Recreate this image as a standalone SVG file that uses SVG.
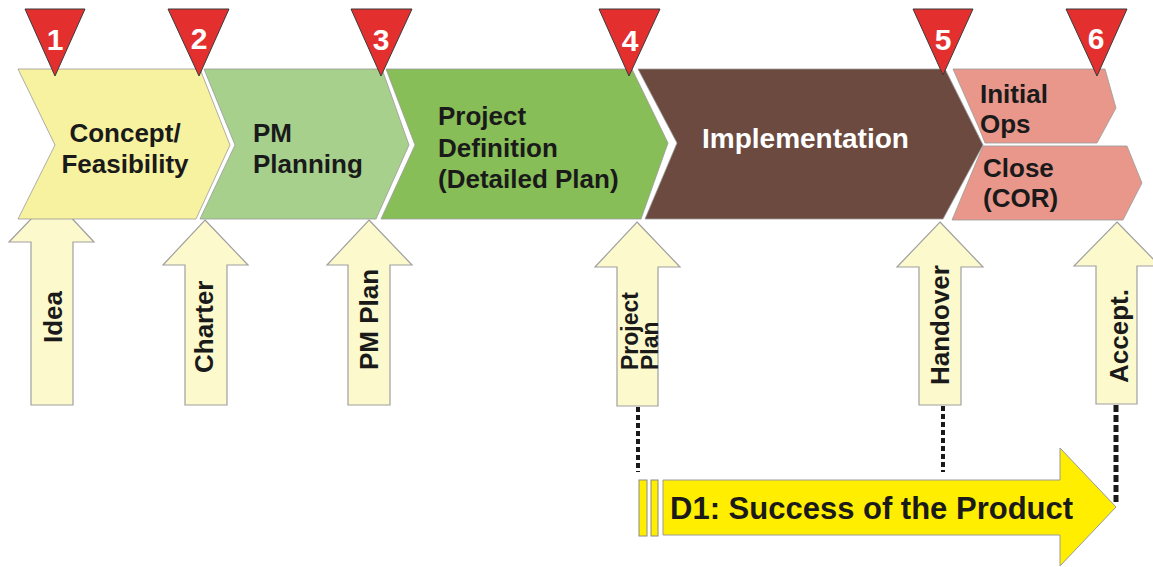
<svg xmlns="http://www.w3.org/2000/svg" width="1153" height="567" viewBox="0 0 1153 567">
<style>
  text { font-family: "Liberation Sans", Arial, sans-serif; font-weight: bold; }
  .lbl { font-size: 26px; fill: #1a1a1a; }
  .num { font-size: 30px; fill: #ffffff; text-anchor: middle; }
  .up { fill: #FCF9CC; stroke: #A0A0A0; stroke-width: 1.2; }
  .tri { fill: #E3302F; stroke: #3a3a3a; stroke-width: 1; }
  .chev { stroke: #9a9a9a; stroke-width: 0.8; }
  .dot { stroke: #1a1a1a; stroke-width: 4; stroke-dasharray: 5 3; fill: none; }
</style>
<rect width="1153" height="567" fill="#ffffff"/>

<!-- Idea arrow (behind chevron) -->
<g id="arrow-idea">
  <polygon class="up" points="52,197 94,242 73,242 73,405 31,405 31,242 9,242"/>
  <text class="lbl" transform="translate(62,343) rotate(-90)">Idea</text>
</g>

<!-- Phase chevrons -->
<g id="phase-concept">
  <polygon class="chev" fill="#F7F2A0" points="18,69 200,69 230,145 196,219 18,219 55,145"/>
  <text class="lbl" text-anchor="middle" x="125" y="142">Concept/</text>
  <text class="lbl" text-anchor="middle" x="125" y="173">Feasibility</text>
</g>
<g id="phase-pm-planning">
  <polygon class="chev" fill="#A8D08D" points="204,69 382,69 409,145 376,219 200,219 235,145"/>
  <text class="lbl" x="253" y="142">PM</text>
  <text class="lbl" x="253" y="173">Planning</text>
</g>
<g id="phase-project-definition">
  <polygon class="chev" fill="#87BE57" points="386,69 632,69 668,143 641,219 381,219 415,145"/>
  <text class="lbl" x="438" y="125">Project</text>
  <text class="lbl" x="438" y="157">Definition</text>
  <text class="lbl" x="438" y="188">(Detailed Plan)</text>
</g>
<g id="phase-implementation">
  <polygon class="chev" fill="#6C4A3F" points="638,69 945,69 983,145 943,219 645,219 677,143"/>
  <text x="702" y="148" font-size="28" fill="#ffffff">Implementation</text>
</g>
<g id="phase-initial-ops">
  <polygon class="chev" fill="#E8978A" points="953,69 1105,69 1116,108 1097,143 985,143 979,128"/>
  <text class="lbl" x="980" y="103">Initial</text>
  <text class="lbl" x="980" y="133">Ops</text>
</g>
<g id="phase-close">
  <polygon class="chev" fill="#E8978A" points="983,146 1127,146 1142,183 1123,220 952,220"/>
  <text class="lbl" x="983" y="177">Close</text>
  <text class="lbl" x="983" y="207">(COR)</text>
</g>

<!-- Milestone triangles -->
<g id="milestone-1"><polygon class="tri" points="25,9 85,9 55,76"/><text class="num" x="55" y="50">1</text></g>
<g id="milestone-2"><polygon class="tri" points="168,9 229,9 199,76"/><text class="num" x="199" y="49">2</text></g>
<g id="milestone-3"><polygon class="tri" points="351,9 412,9 381,76"/><text class="num" x="381" y="50">3</text></g>
<g id="milestone-4"><polygon class="tri" points="599,9 660,9 629,76"/><text class="num" x="630" y="51">4</text></g>
<g id="milestone-5"><polygon class="tri" points="913,9 973,9 943,75"/><text class="num" x="943" y="50">5</text></g>
<g id="milestone-6"><polygon class="tri" points="1066,9 1127,9 1097,76"/><text class="num" x="1096" y="49">6</text></g>

<!-- Deliverable arrows -->
<g id="arrow-charter">
  <polygon class="up" points="205,220 248,265 227,265 227,405 185,405 185,265 163,265"/>
  <text class="lbl" transform="translate(213,373) rotate(-90)">Charter</text>
</g>
<g id="arrow-pm-plan">
  <polygon class="up" points="369,220 412,265 390,265 390,405 348,405 348,265 327,265"/>
  <text class="lbl" transform="translate(378,370) rotate(-90)">PM Plan</text>
</g>
<g id="arrow-project-plan">
  <polygon class="up" points="637,222 680,267 658,267 658,406 617,406 617,267 595,267"/>
  <text class="lbl" style="font-size:23px" transform="translate(638,370) rotate(-90)">Project</text>
  <text class="lbl" style="font-size:23px" transform="translate(658,370) rotate(-90)">Plan</text>
</g>
<g id="arrow-handover">
  <polygon class="up" points="940,222 983,267 961,267 961,405 919,405 919,267 897,267"/>
  <text class="lbl" transform="translate(949,385) rotate(-90)">Handover</text>
</g>
<g id="arrow-accept">
  <polygon class="up" points="1117,222 1160,266 1137,266 1137,404 1096,404 1096,266 1074,266"/>
  <text class="lbl" transform="translate(1128,383) rotate(-90)">Accept.</text>
</g>

<!-- Connectors -->
<g id="connectors">
  <line class="dot" x1="638" y1="407" x2="638" y2="472"/>
  <line class="dot" x1="943" y1="406" x2="943" y2="472"/>
  <line class="dot" x1="1116" y1="405" x2="1116" y2="503" style="stroke-width:5;stroke-dasharray:7 3"/>
</g>

<!-- D1 arrow -->
<g id="d1-arrow">
  <rect x="639" y="480" width="8" height="56" fill="#FFEE00" stroke="#8a8a8a" stroke-width="1"/>
  <rect x="651" y="480" width="7" height="56" fill="#FFEE00" stroke="#8a8a8a" stroke-width="1"/>
  <polygon points="663,480 1060,480 1060,448 1116,507 1060,566 1060,535 663,535" fill="#FFEE00" stroke="#9a9a9a" stroke-width="1"/>
  <text x="670" y="519" font-size="31" fill="#1a1a1a">D1: Success of the Product</text>
</g>
</svg>
